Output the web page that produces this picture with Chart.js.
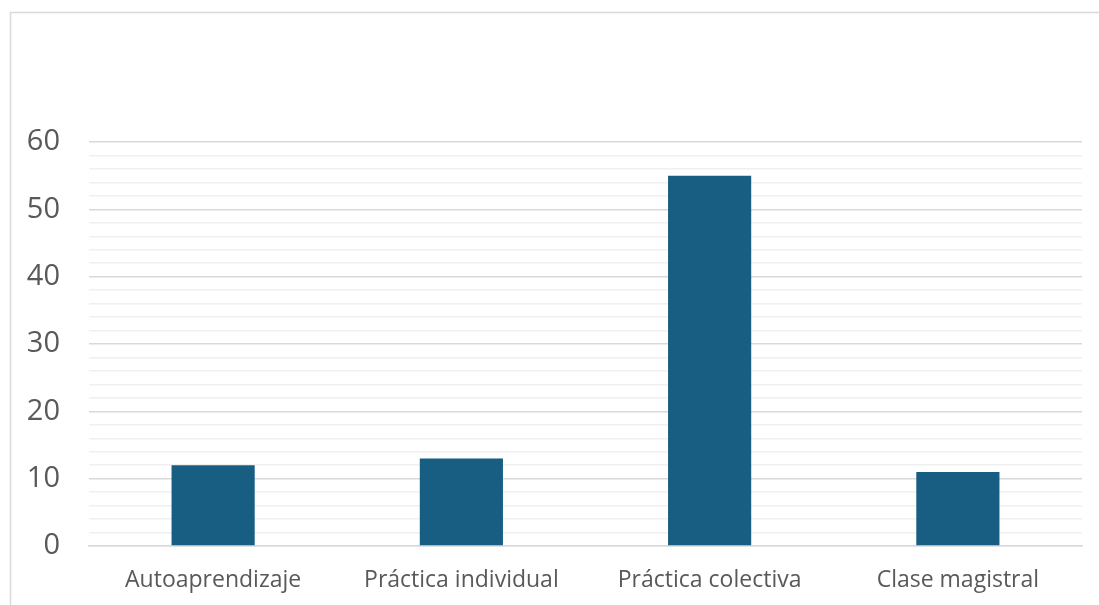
<!DOCTYPE html>
<html>
<head>
<meta charset="utf-8">
<script src="https://cdn.jsdelivr.net/npm/chart.js@4.4.0/dist/chart.umd.min.js"></script>
<style>
  html, body { margin: 0; padding: 0; background: #ffffff; }
  #wrap { width: 1099px; height: 605px; position: relative; }
</style>
</head>
<body>
<div id="wrap"><canvas id="bar-chart"></canvas></div>
<script>
// Chart data
const categories = ['Autoaprendizaje', 'Práctica individual', 'Práctica colectiva', 'Clase magistral'];
const values = [12, 13, 55, 11];
const yTicks = [0, 10, 20, 30, 40, 50, 60];

// Frame around the chart (outer border, partly cut off by the picture)
const framePlugin = {
    id: 'frame',
    beforeDraw(chart) {
        const c = chart.ctx;
        c.save();
        c.strokeStyle = '#d9d9d9';
        c.lineWidth = 1.5;
        c.beginPath();
        c.moveTo(10.5, 620);
        c.lineTo(10.5, 12.5);
        c.lineTo(1110, 12.5);
        c.stroke();
        c.restore();
    }
};

var ctx = document.getElementById('bar-chart').getContext('2d');
var barChart = new Chart(ctx, {
    type: 'bar',
    data: {
        labels: categories,
        datasets: [{
            label: 'Serie 1',
            data: values,
            backgroundColor: '#175e82',
            borderWidth: 0,
            categoryPercentage: 1,
            barPercentage: 0.335
        }]
    },
    options: {
        responsive: true,
        maintainAspectRatio: false,
        animation: false,
        layout: { padding: { left: 0, right: 17, top: 142, bottom: 0 } },
        plugins: {
            legend: { display: false },
            tooltip: { enabled: false }
        },
        scales: {
            x: {
                afterFit(scale) { scale.height = 59; },
                grid: { display: false, drawTicks: false },
                border: { display: true, color: '#d9d9d9', width: 1.5 },
                ticks: {
                    color: '#595959',
                    font: { family: 'Open Sans', size: 23, lineHeight: 1.1 },
                    padding: 22,
                    maxRotation: 0
                }
            },
            y: {
                min: 0,
                max: 60,
                border: { display: false },
                afterFit(scale) { scale.width = 89; },
                grid: {
                    drawTicks: false,
                    color(c) {
                        return yTicks.includes(c.tick.value) ? '#d9d9d9' : '#f0f0f0';
                    },
                    lineWidth: 1.5
                },
                ticks: {
                    stepSize: 2,
                    autoSkip: false,
                    color: '#595959',
                    font: { family: 'Open Sans', size: 29 },
                    padding: 29,
                    callback(v) { return yTicks.includes(v) ? v : ''; }
                }
            }
        }
    },
    plugins: [framePlugin]
});
</script>
</body>
</html>
